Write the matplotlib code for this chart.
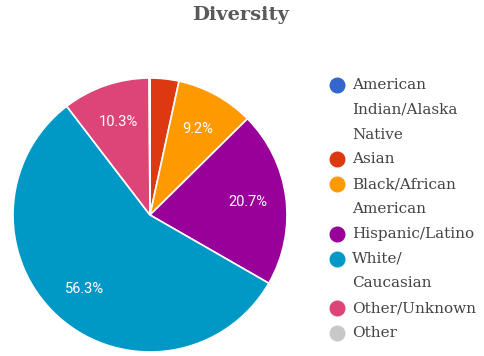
import matplotlib
matplotlib.use('Agg')
import matplotlib.pyplot as plt

# Data
groups = ['American\nIndian/Alaska\nNative', 'Asian', 'Black/African\nAmerican',
          'Hispanic/Latino', 'White/\nCaucasian', 'Other/Unknown', 'Other']
shares = [0.0, 3.4, 9.2, 20.7, 56.3, 10.3, 0.1]
colors = ['#3366cc', '#dc3912', '#ff9900', '#990099', '#0099c6', '#dd4477', '#c8c8c8']

W, H = 485, 356
fig = plt.figure(figsize=(W / 100, H / 100), dpi=100)

# Pie axes: center (150, 215), radius ~137 px
cx, cy, r = 150, 215, 137
ax = fig.add_axes([(cx - r) / W, (H - cy - r) / H, 2 * r / W, 2 * r / H])

def fmt(pct):
    return f'{pct:.1f}%' if pct >= 5 else ''

wedges, texts, autotexts = ax.pie(
    shares, colors=colors, startangle=90, counterclock=False,
    autopct=fmt, pctdistance=0.72,
    wedgeprops=dict(edgecolor='white', linewidth=1.2),
    textprops=dict(color='white', fontsize=10.5, family='Roboto'))
ax.set_xlim(-1, 1)
ax.set_ylim(-1, 1)
ax.set_aspect('auto')
ax.axis('off')

# Title
fig.text(241 / W, 1 - 15 / H, 'Diversity', ha='center', va='center',
         fontsize=14, fontweight='bold', color='#595959', family='DejaVu Serif')

# Legend drawn by hand
y = 85
step = 24.8
for label, col in zip(groups, colors):
    fig.add_artist(plt.Line2D([337 / W], [1 - y / H], marker='o', markersize=10.5,
                              color=col, linestyle='none', transform=fig.transFigure))
    for ln in label.split('\n'):
        fig.text(352 / W, 1 - y / H, ln, ha='left', va='center',
                 fontsize=11, color='#444444', family='DejaVu Serif')
        y += step

fig.savefig('out.png', dpi=100)
